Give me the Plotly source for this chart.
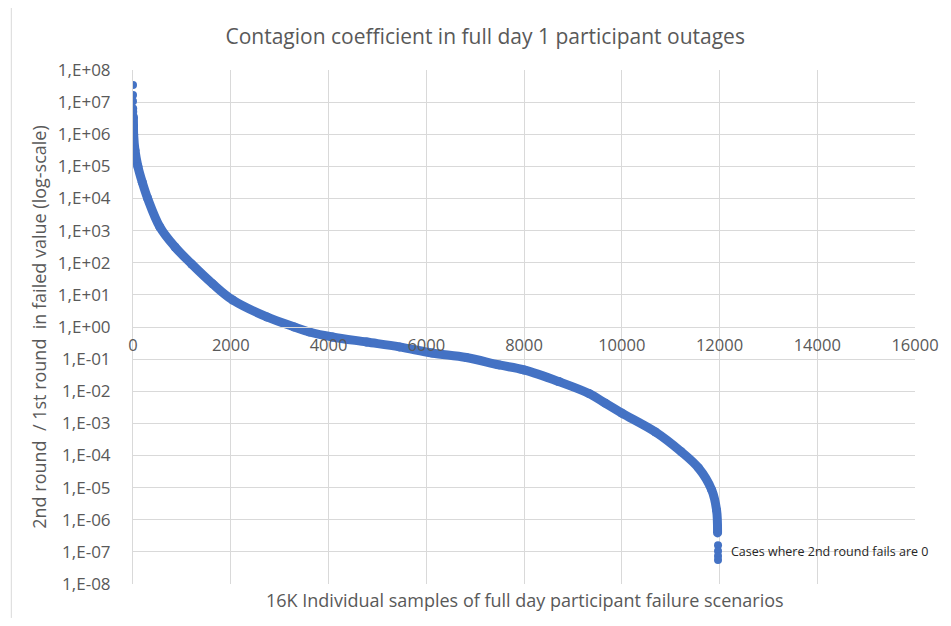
import plotly.graph_objects as go

# samples (sorted ratio, one point per bend of the band)
sample_idx = [8, 10, 13, 40, 100, 190, 300, 550, 860, 1200, 1630, 2040, 2740,
              3300, 3610, 4080, 4780, 5450, 6120, 6820, 7490, 8000, 8710, 9330,
              9670, 10000, 10690, 11220, 11570, 11840, 11940, 11960]
ratio = [3.5e6, 1.8e6, 1.0e6, 3.2e5, 1.0e5, 3.2e4, 1.0e4, 1.3e3, 310, 91, 22,
         6.9, 2.05, 1.0, 0.70, 0.49, 0.34, 0.24, 0.155, 0.112, 0.066, 0.046,
         0.0200, 0.0085, 0.0042, 0.0021, 5.4e-4, 1.3e-4, 4.1e-5, 8.5e-6, 2.0e-6,
         3.9e-7]

# isolated dots at both ends
top_idx = [0, 0, 0, 4, 5]
top_ratio = [3.4e7, 1.66e7, 1.07e7, 6.3e6, 5.0e6]
bottom_idx = [11970, 11970, 11970, 11970]
bottom_ratio = [1.6e-7, 1.07e-7, 7.4e-8, 5.6e-8]

x_ticks = list(range(0, 16001, 2000))
y_exps = list(range(-8, 9))
y_ticktext = [("1,E+%02d" % e) if e >= 0 else ("1,E-%02d" % -e) for e in y_exps]

blue = "#4472C4"
grey_txt = "#595959"
grid = "#D9D9D9"
font = "Open Sans"

fig = go.Figure()
fig.add_trace(go.Scatter(x=sample_idx, y=ratio, mode="lines+markers",
                         line=dict(color=blue, width=9, shape="spline"),
                         marker=dict(color=blue, size=9), showlegend=False))
fig.add_trace(go.Scatter(x=top_idx + bottom_idx, y=top_ratio + bottom_ratio,
                         mode="markers", marker=dict(color=blue, size=8),
                         showlegend=False))

# the page body adds an 8px offset, so the figure is 8px smaller than the window
fig.update_layout(
    width=943, height=618,
    margin=dict(l=125, r=34, t=62, b=42),
    paper_bgcolor="white", plot_bgcolor="white",
    font=dict(family=font, color=grey_txt),
    title=dict(text="Contagion coefficient in full day 1 participant outages",
               x=0.506, xanchor="center", y=0.953, yanchor="middle",
               font=dict(size=21, color=grey_txt)),
    xaxis=dict(range=[0, 16000], tickvals=x_ticks, tickformat="d",
               anchor="free", position=0.5, showline=True, linecolor=grid,
               showgrid=True, gridcolor=grid, zeroline=False,
               ticks="", ticklabelstandoff=3, tickfont=dict(size=16.5, color=grey_txt)),
    yaxis=dict(type="log", range=[-8, 8], tickvals=[10.0 ** e for e in y_exps],
               ticktext=y_ticktext, showline=True, linecolor=grid,
               showgrid=True, gridcolor=grid, zeroline=False, ticks="",
               ticklabelstandoff=18, tickfont=dict(size=17, color=grey_txt),
               title=dict(text="2nd round \u00a0/ 1st round \u00a0in failed value (log-scale)",
                          font=dict(size=18, color=grey_txt), standoff=6)),
    annotations=[
        dict(text="16K Individual samples of full day participant failure scenarios",
             xref="paper", yref="paper", x=0.501, y=-0.031, xanchor="center",
             yanchor="middle", showarrow=False, font=dict(size=18, color=grey_txt)),
        dict(text="Cases where 2nd round fails are 0", xref="x", yref="y",
             x=12200, y=-7, xanchor="left", yanchor="middle", showarrow=False,
             font=dict(size=12.5, color="#262626")),
    ],
    shapes=[dict(type="line", xref="paper", yref="paper", x0=-0.1556, x1=-0.1556,
                 y0=-0.066, y1=1.14, line=dict(color=grid, width=1))],
)

fig.write_html("out.html")
